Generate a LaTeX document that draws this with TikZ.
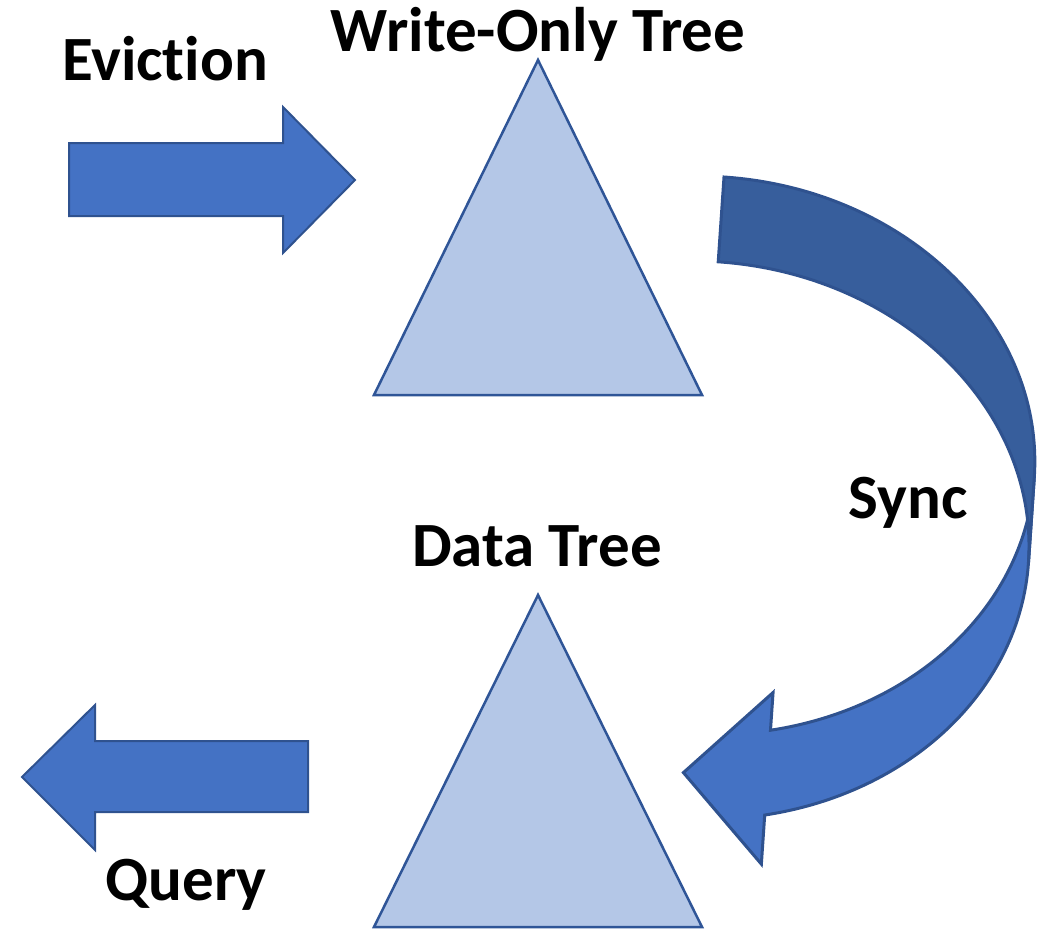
\documentclass[tikz,border=0pt]{standalone}
\usepackage{fontspec}
\setmainfont{Carlito}[Ligatures=NoCommon]
\definecolor{arrowfill}{HTML}{4472C4}
\definecolor{arrowline}{HTML}{2F528F}
\definecolor{backfill}{HTML}{375E9C}
\definecolor{trifill}{HTML}{B4C7E7}
\definecolor{triline}{HTML}{2F5597}
\begin{document}
\begin{tikzpicture}[x=1pt,y=-1pt,
  lbl/.style={font=\fontsize{63}{75}\selectfont\bfseries, anchor=base, inner sep=0pt},
  blockarrow/.style={fill=arrowfill, draw=arrowline, line width=2pt, line join=miter},
  curvefront/.style={fill=arrowfill, draw=arrowline, line width=3pt, line join=miter},
  curveback/.style={fill=backfill, draw=arrowline, line width=3pt, line join=miter},
  tri/.style={fill=trifill, draw=triline, line width=2.5pt, line join=miter}]
\useasboundingbox (0,0) rectangle (1051,930);

% triangles
\draw[tri] (374,395) -- (702,395) -- (538,60) -- cycle;
\draw[tri] (374,927) -- (702,927) -- (538,595) -- cycle;

% eviction arrow
\draw[blockarrow] (69,143) -- (283,143) -- (283,107) -- (355,180) -- (283,253) -- (283,216) -- (69,216) -- cycle;
% query arrow
\draw[blockarrow] (308,741) -- (95,741) -- (95,705) -- (22,777) -- (95,850) -- (95,812) -- (308,812) -- cycle;

% curved sync arrow
\begin{scope}[shift={(724,177)}, rotate=-3.9]
  \draw[curvefront] (330,364) arc[start angle=0, end angle=75.25, x radius=330, y radius=279]
     -- (84,683) -- (0,597) -- (84,511) -- (84,548.8)
     arc[start angle=75.25, end angle=0, x radius=330, y radius=279] -- cycle;
  \draw[curveback] (0,0) arc[start angle=-90, end angle=0, x radius=330, y radius=279]
     -- (330,364) arc[start angle=0, end angle=-90, x radius=330, y radius=279] -- cycle;
\end{scope}

% labels
\node[lbl] (evict) at (165,80) {Eviction};
\node[lbl] (wot) at (538,51) {Write-Only Tree};
\node[lbl] (sync) at (908,518) {Sync};
\node[lbl] (dt) at (537,566) {Data Tree};
\node[lbl] (query) at (186,900) {Query};
\end{tikzpicture}
\end{document}
